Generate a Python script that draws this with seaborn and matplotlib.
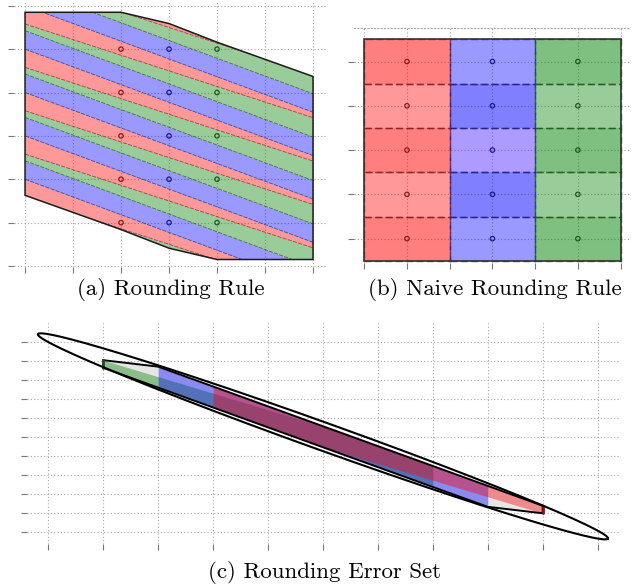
import numpy as np
import matplotlib
matplotlib.use("Agg")
import matplotlib.pyplot as plt
import seaborn as sns
from matplotlib.patches import Polygon

# ---------------- panel (a): rounding rule ----------------
a_lattice_x = [2, 3, 4]
a_lattice_y = [1, 2, 3, 4, 5]
a_region_x = [0, 2, 3, 4, 6, 6, 4, 3, 2, 0]
a_region_y = [5.85, 5.85, 5.59, 5.16, 4.37, 0.15, 0.15, 0.41, 0.84, 1.63]
# stripe boundaries  y = offset + k + slope * x   (red|blue, blue|green, green|red)
a_bound_offset = [0.0, 0.425, 0.579]
a_bound_slope = [-0.409, -0.409, -0.360]
a_periods = list(range(-3, 9))
a_xticks = [0, 1, 2, 3, 4, 5, 6]
a_yticks = [0, 1, 2, 3, 4, 5, 6]

# ---------------- panel (b): naive rounding rule ----------------
b_col_left = [0, 1, 2]
b_row_bottom = [0, 1, 2, 3, 4]
b_dot_x = [0.5, 1.5, 2.5]
b_dot_y = [0.5, 1.5, 2.5, 3.5, 4.5]
b_alpha_red = [0.5, 0.4, 0.5, 0.4, 0.5]
b_alpha_blue = [0.4, 0.5, 0.45, 0.5, 0.4]
b_alpha_green = [0.5, 0.4, 0.5, 0.4, 0.5]
b_xticks = [0, 0.5, 1, 1.5, 2, 2.5, 3]
b_yticks = [0.5, 1.5, 2.5, 3.5, 4.5]

# ---------------- panel (c): rounding error set ----------------
c_x = [1, 2, 3, 5, 7, 8, 9]
c_top = [9.03, 8.69, 7.644, 5.552, 3.46, 2.414, 1.368]
c_bot = [8.63, 7.584, 6.538, 4.446, 2.354, 1.31, 0.97]
c_green_span = (1, 7)
c_blue_span = (2, 8)
c_red_span = (3, 9)
c_green_edge = [(1, 9.03), (5, 5.55)]   # upper limit of the green piece
c_red_edge = [(5, 4.45), (9, 0.97)]     # lower limit of the red piece
c_ell_center = [5.0, 5.02]
c_ell_major = [5.19, -5.38]
c_ell_minor = [-0.086, -0.69]
c_ticks = list(range(11))

# ---------------- figure ----------------
sns.set_theme(style="white")
W, H = 636, 587
fig = plt.figure(figsize=(W / 100, H / 100), dpi=100)


def add_ax(l, t, r, b):
    return fig.add_axes([l / W, 1 - b / H, (r - l) / W, (b - t) / H])


def style(ax, xt, yt, xl, yl):
    ax.set_xlim(*xl)
    ax.set_ylim(*yl)
    ax.set_xticks(xt)
    ax.set_yticks(yt)
    ax.set_axisbelow(True)
    ax.grid(True, linestyle=(0, (1, 2)), color="#a8a8a8", linewidth=0.8)
    for s in ax.spines.values():
        s.set_visible(False)
    ax.tick_params(axis="both", direction="out", length=4, width=0.8,
                   color="#777777", labelbottom=False, labelleft=False,
                   bottom=True, left=True)
    ax.set_facecolor("white")


# ---- (a)
axa = add_ax(14, 1, 326, 267)
style(axa, a_xticks, a_yticks, (-0.23, 6.27), (-0.023, 6.11))
poly = Polygon(np.column_stack([a_region_x, a_region_y]), closed=True,
               transform=axa.transData, facecolor="none", edgecolor="#1a1a1a",
               linewidth=1.1, zorder=4)
axa.add_patch(poly)
xs = np.array([a_region_x[0], a_region_x[4]], dtype=float)
band_cols = ["blue", "green", "red"]
line_cols = ["#2a2a70", "#2a4a2a", "#6a2a2a"]
for k in a_periods:
    lines = [a_bound_offset[i] + k + a_bound_slope[i] * xs for i in range(3)]
    nxt = a_bound_offset[0] + k + 1 + a_bound_slope[0] * xs
    bounds = [lines[0], lines[1], lines[2], nxt]
    for j, col in enumerate(band_cols):
        fb = axa.fill_between(xs, bounds[j], bounds[j + 1], color=col,
                              alpha=0.4, linewidth=0, zorder=2)
        fb.set_clip_path(poly)
    for i in range(3):
        ln, = axa.plot(xs, lines[i], color=line_cols[i], lw=0.6, alpha=0.75,
                       ls=(0, (5, 1.5)), zorder=3)
        ln.set_clip_path(poly)
dot_cols = ["#8b1a1a", "#1a1a8b", "#1a5a1a"]
for xi, dc in zip(a_lattice_x, dot_cols):
    sns.scatterplot(x=[xi] * len(a_lattice_y), y=a_lattice_y, ax=axa,
                    s=10, color="none", edgecolor=dc, linewidth=0.9, zorder=5)

# ---- (b)
axb = add_ax(354, 28.3, 630, 263)
style(axb, b_xticks, b_yticks, (-0.12, 3.11), (-0.05, 5.25))
axb.spines["top"].set_visible(True)
axb.spines["top"].set_linestyle((0, (1, 2)))
axb.spines["top"].set_color("#a8a8a8")
axb.spines["top"].set_linewidth(0.8)
col_specs = [("red", "#8b2020", b_alpha_red),
             ("blue", "#20208b", b_alpha_blue),
             ("green", "#1f5a1f", b_alpha_green)]
for xl, (fc, ec, alphas) in zip(b_col_left, col_specs):
    for yb, al in zip(b_row_bottom, alphas):
        face = fc
        if fc == "blue" and al == 0.45:
            face = "#4a22ff"
        axb.bar(xl, 1, width=1, bottom=yb, align="edge", color=face,
                alpha=al, linewidth=0, zorder=2)
        axb.bar(xl, 1, width=1, bottom=yb, align="edge", facecolor="none",
                edgecolor=ec, linewidth=1.0, linestyle=(0, (5, 2.5)),
                alpha=0.8, zorder=3)
axb.bar(b_col_left[0], len(b_row_bottom), width=len(b_col_left),
        bottom=b_row_bottom[0], align="edge", facecolor="none",
        edgecolor="#333333", linewidth=1.2, zorder=4)
for xi, dc in zip(b_dot_x, dot_cols):
    sns.scatterplot(x=[xi] * len(b_dot_y), y=b_dot_y, ax=axb,
                    s=10, color="none", edgecolor=dc, linewidth=0.9, zorder=5)

# ---- (c)
axc = add_ax(27, 322, 621, 544)
style(axc, c_ticks, c_ticks, (-0.388, 10.426), (-0.647, 11.04))
cx = np.array(c_x, dtype=float)
ct = np.array(c_top)
cb = np.array(c_bot)


def edge_line(pts):
    (x0, y0), (x1, y1) = pts
    return y0 + (y1 - y0) / (x1 - x0) * (cx - x0)


def span(lohi):
    lo, hi = lohi
    return (cx >= lo) & (cx <= hi)


g_hi = np.minimum(ct, edge_line(c_green_edge))
r_lo = np.maximum(cb, edge_line(c_red_edge))
axc.fill_between(cx, cb, ct, color="#e6e6e6", linewidth=0, zorder=2)
m = span(c_green_span)
axc.fill_between(cx[m], cb[m], g_hi[m], color="green", alpha=0.4, lw=0, zorder=2)
m = span(c_blue_span)
axc.fill_between(cx[m], cb[m], ct[m], color="blue", alpha=0.4, lw=0, zorder=2)
m = span(c_red_span)
axc.fill_between(cx[m], r_lo[m], ct[m], color="red", alpha=0.4, lw=0, zorder=2)
ox = list(cx) + list(cx[::-1]) + [cx[0]]
oy = list(ct) + list(cb[::-1]) + [ct[0]]
axc.plot(ox, oy, color="black", lw=1.4, zorder=4, solid_joinstyle="miter")
axc.plot([cx[0], cx[0]], [cb[0], ct[0]], color="#1f4f1f", lw=2.0, zorder=4)
axc.plot([cx[-1], cx[-1]], [cb[-1], ct[-1]], color="#8b1010", lw=2.0, zorder=4)
t = np.linspace(0, 2 * np.pi, 400)
ex = c_ell_center[0] + c_ell_major[0] * np.cos(t) + c_ell_minor[0] * np.sin(t)
ey = c_ell_center[1] + c_ell_major[1] * np.cos(t) + c_ell_minor[1] * np.sin(t)
sns.lineplot(x=ex, y=ey, sort=False, estimator=None, color="black", lw=1.5,
             ax=axc, zorder=5)

# ---- captions
cap = dict(ha="center", va="center", fontsize=16.5, family="cmr10", color="black")
fig.text(171 / W, 1 - 290 / H, "(a) Rounding Rule", **cap)
fig.text(495 / W, 1 - 290 / H, "(b) Naive Rounding Rule", **cap)
fig.text(324 / W, 1 - 573 / H, "(c) Rounding Error Set", **cap)

fig.savefig("out.png", dpi=100)
